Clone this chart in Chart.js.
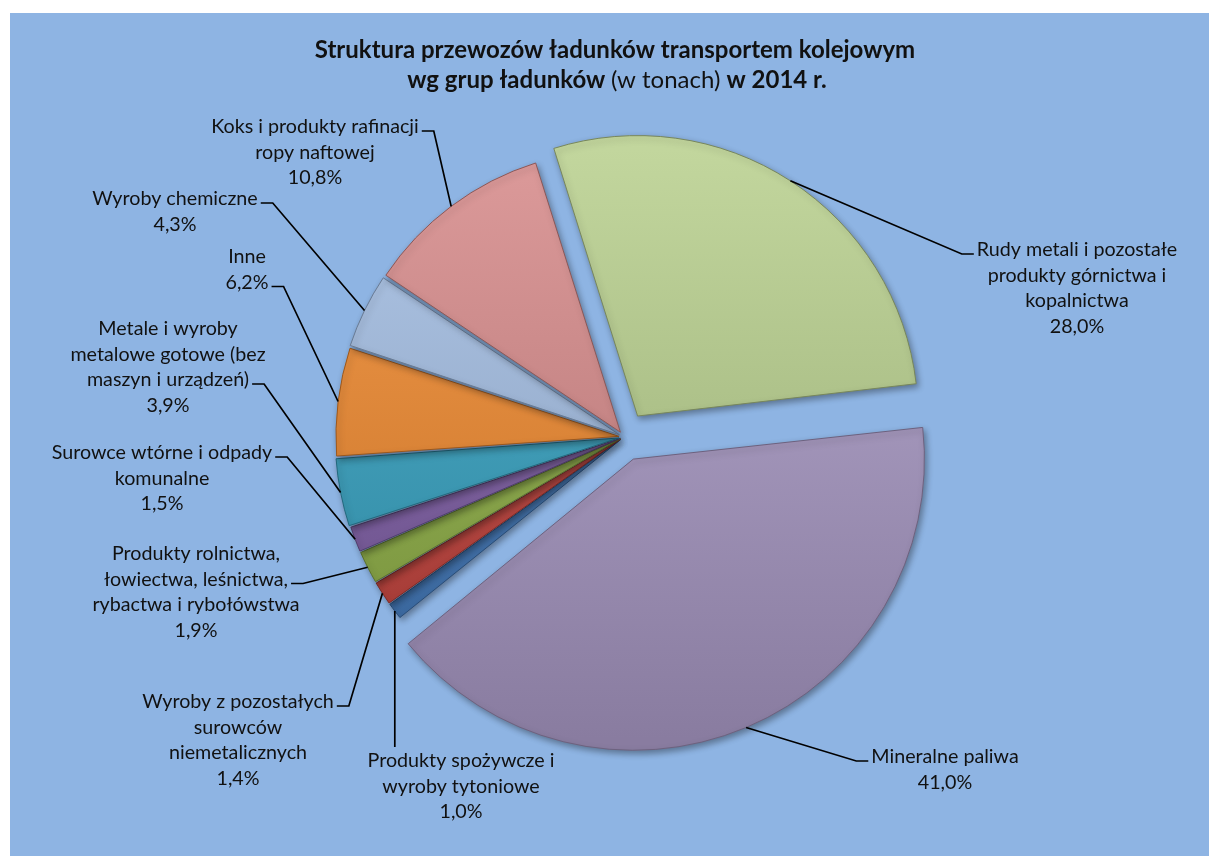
<!DOCTYPE html>
<html>
<head>
<meta charset="utf-8">
<script src="https://cdn.jsdelivr.net/npm/chart.js@4.4.0/dist/chart.umd.min.js"></script>
<style>
  html, body { margin: 0; padding: 0; background: #fff; }
  #wrap { width: 1209px; height: 856px; }
</style>
</head>
<body>
<div id="wrap"><canvas id="chart" width="1209" height="856"></canvas></div>
<script>
// data, in drawing order (clockwise)
const categories = [
  ['Produkty spożywcze i', 'wyroby tytoniowe'],
  ['Wyroby z pozostałych', 'surowców', 'niemetalicznych'],
  ['Produkty rolnictwa,', 'łowiectwa, leśnictwa,', 'rybactwa i rybołówstwa'],
  ['Surowce wtórne i odpady', 'komunalne'],
  ['Metale i wyroby', 'metalowe gotowe (bez', 'maszyn i urządzeń)'],
  ['Inne'],
  ['Wyroby chemiczne'],
  ['Koks i produkty rafinacji', 'ropy naftowej'],
  ['Rudy metali i pozostałe', 'produkty górnictwa i', 'kopalnictwa'],
  ['Mineralne paliwa'],
];
const shares = [1.0, 1.4, 1.9, 1.5, 3.9, 6.2, 4.3, 10.8, 28.0, 41.0];
const sliceColors = [
  '#3F76B8', '#C2413A', '#8FB045', '#7D5DA5', '#35A2C2',
  '#F0882C', '#A2BDE3', '#D68888', '#B8D08D', '#A797C3',
];
const explode = [16, 16, 16, 16, 20, 20, 20, 24, 100, 96];

const titleLine1 = 'Struktura przewozów ładunków transportem kolejowym';
const titleLine2 = [
  ['wg grup ładunków ', 'bold'],
  ['(w tonach) ', 'normal'],
  ['w 2014 r.', 'bold'],
];

// where the data labels sit (centre x, first line y) and where the leader meets them
const labelPos = [
  { x: 461, y: 761, side: 'top' },
  { x: 238, y: 702, side: 'right', line: 0 },
  { x: 196, y: 554, side: 'right', line: 1 },
  { x: 162, y: 453, side: 'right', line: 0 },
  { x: 168, y: 329, side: 'right', line: 2 },
  { x: 247, y: 257, side: 'right', line: 1 },
  { x: 175, y: 199, side: 'right', line: 0 },
  { x: 315, y: 127, side: 'right', line: 0 },
  { x: 1077, y: 250, side: 'left', line: 0 },
  { x: 945, y: 757, side: 'left', line: 0 },
];

const FONT = 'Lato, "Open Sans", sans-serif';
const labelSize = 19.7;
const titleSize = 24;
const lineH = 25.5;
const pieRadius = 280;

function shade(hex, f) {
  const n = parseInt(hex.slice(1), 16);
  let r = (n >> 16) & 255, g = (n >> 8) & 255, b = n & 255;
  if (f >= 0) {
    r += (255 - r) * f; g += (255 - g) * f; b += (255 - b) * f;
  } else {
    r *= 1 + f; g *= 1 + f; b *= 1 + f;
  }
  return `rgb(${Math.round(r)}, ${Math.round(g)}, ${Math.round(b)})`;
}

function pct(v) {
  return v.toFixed(1).replace('.', ',') + '%';
}

const backgroundPlugin = {
  id: 'bg',
  beforeDraw(chart) {
    const c = chart.ctx;
    c.save();
    c.fillStyle = '#ffffff';
    c.fillRect(0, 0, chart.width, chart.height);
    c.fillStyle = '#8EB4E3';
    c.fillRect(10, 13, chart.width - 10, chart.height - 13);
    c.restore();
  },
};

const shadowPlugin = {
  id: 'shadow',
  beforeDatasetsDraw(chart) {
    const c = chart.ctx;
    c.save();
    c.shadowColor = 'rgba(0, 0, 0, 0.35)';
    c.shadowBlur = 6;
    c.shadowOffsetX = 2;
    c.shadowOffsetY = 3;
  },
  afterDatasetsDraw(chart) {
    chart.ctx.restore();
  },
};

const labelsPlugin = {
  id: 'pieLabels',
  afterDraw(chart) {
    const c = chart.ctx;
    const meta = chart.getDatasetMeta(0);
    c.save();

    // title
    c.fillStyle = '#111';
    c.textBaseline = 'middle';
    c.textAlign = 'center';
    c.font = `bold ${titleSize}px ${FONT}`;
    c.fillText(titleLine1, 615, 50);
    let total = 0;
    titleLine2.forEach(([t, w]) => {
      c.font = `${w} ${titleSize}px ${FONT}`;
      total += c.measureText(t).width;
    });
    let tx = 617 - total / 2;
    c.textAlign = 'left';
    titleLine2.forEach(([t, w]) => {
      c.font = `${w} ${titleSize}px ${FONT}`;
      c.fillText(t, tx, 80);
      tx += c.measureText(t).width;
    });

    // data labels with leader lines
    c.font = `${labelSize}px ${FONT}`;
    c.textAlign = 'center';
    c.strokeStyle = '#000';
    c.lineWidth = 1.7;
    meta.data.forEach((arc, i) => {
      const p = arc.getProps(['x', 'y', 'startAngle', 'endAngle', 'outerRadius', 'circumference']);
      const mid = (p.startAngle + p.endAngle) / 2;
      const d = (arc.options.offset || 0) / 4;
      const fix = 1 - Math.sin(Math.min(Math.PI, p.circumference));
      const dist = p.outerRadius + d * fix + d;
      const ax = p.x + Math.cos(mid) * dist;
      const ay = p.y + Math.sin(mid) * dist;

      const pos = labelPos[i];
      const lines = categories[i].concat([pct(shares[i])]);
      lines.forEach((ln, k) => c.fillText(ln, pos.x, pos.y + k * lineH));

      c.beginPath();
      if (pos.side === 'top') {
        c.moveTo(ax, ay);
        c.lineTo(ax, pos.y - 14);
      } else {
        const ln = lines[pos.line];
        const w = c.measureText(ln).width;
        const ty = pos.y + pos.line * lineH + 4;
        let t0, t1;
        if (pos.side === 'right') {
          t0 = pos.x + w / 2 + 3;
          t1 = t0 + 12;
        } else {
          t0 = pos.x - w / 2 - 3;
          t1 = t0 - 12;
        }
        c.moveTo(t0, ty);
        c.lineTo(t1, ty);
        c.lineTo(ax, ay);
      }
      c.stroke();
    });
    c.restore();
  },
};

const ctx = document.getElementById('chart');
new Chart(ctx, {
  type: 'pie',
  data: {
    labels: categories,
    datasets: [{
      data: shares,
      backgroundColor: (c) => {
        const col = sliceColors[c.dataIndex];
        const area = c.chart.chartArea;
        if (!area) return col;
        const cy = (area.top + area.bottom) / 2;
        const g = c.chart.ctx.createLinearGradient(0, cy - pieRadius, 0, cy + pieRadius);
        g.addColorStop(0, shade(col, 0.15));
        g.addColorStop(1, shade(col, -0.18));
        return g;
      },
      borderColor: sliceColors.map((col) => shade(col, -0.35)),
      borderWidth: 1,
      offset: explode,
    }],
  },
  options: {
    responsive: false,
    animation: false,
    events: [],
    rotation: 231,
    radius: pieRadius,
    layout: { padding: { left: 39, top: 18, right: 0, bottom: 0 } },
    plugins: {
      legend: { display: false },
      tooltip: { enabled: false },
      title: { display: false },
    },
  },
  plugins: [backgroundPlugin, shadowPlugin, labelsPlugin],
});
</script>
</body>
</html>
